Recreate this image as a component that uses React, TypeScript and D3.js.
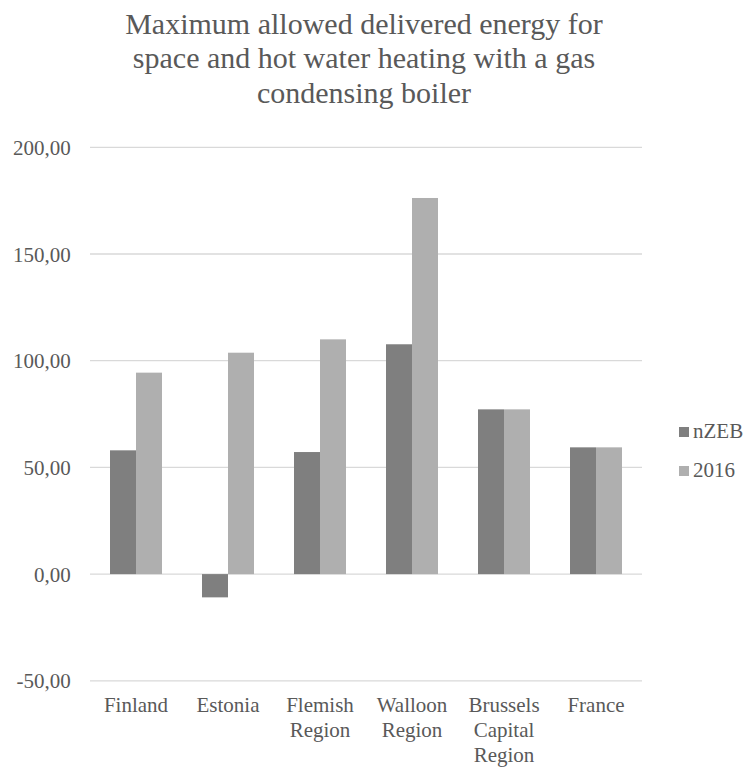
import React from "react";
import * as d3 from "d3";

const categories: string[][] = [
  ["Finland"],
  ["Estonia"],
  ["Flemish", "Region"],
  ["Walloon", "Region"],
  ["Brussels", "Capital", "Region"],
  ["France"],
];
const seriesNames = ["nZEB", "2016"];
const nzeb = [58.0, -10.9, 57.2, 107.7, 77.2, 59.4];
const y2016 = [94.4, 103.75, 110.0, 176.25, 77.2, 59.4];
const yTicks = [-50, 0, 50, 100, 150, 200];
const titleLines = [
  "Maximum allowed delivered energy for",
  "space and hot water heating with a gas",
  "condensing boiler",
];

const W = 748;
const H = 769;
const FONT = '"Liberation Serif", Tinos, "Times New Roman", Times, "DejaVu Serif", serif';
const TEXT = "#595959";
const COLORS = ["#7f7f7f", "#afafaf"];

export default function App() {
  const plot = { left: 90, right: 642, top: 147.3, bottom: 680.8 };
  const keys = categories.map((c) => c.join(" "));

  const x = d3
    .scaleBand<string>()
    .domain(keys)
    .range([plot.left, plot.right])
    .paddingInner(0.4348)
    .paddingOuter(0.2174);
  const xs = d3
    .scaleBand<string>()
    .domain(seriesNames)
    .range([0, x.bandwidth()]);
  const y = d3.scaleLinear().domain([-50, 200]).range([plot.bottom, plot.top]);

  const series = [nzeb, y2016];
  const fmt = (v: number) => d3.format(".2f")(v).replace(".", ",").replace("\u2212", "-");
  const txt = { fontFamily: FONT };

  return (
    <svg
      width={W}
      height={H}
      style={{ display: "block", position: "absolute", left: 0, top: 0, background: "#fff", fontFamily: FONT }}
    >
      <rect width={W} height={H} fill="#fff" />
      {titleLines.map((t, i) => (
        <text
          key={t}
          x={364}
          y={33.5 + i * 34.5}
          textAnchor="middle"
          fontSize={30}
          fill={TEXT}
          style={txt}
        >
          {t}
        </text>
      ))}

      {yTicks.map((t) => (
        <g key={t}>
          <line
            x1={plot.left}
            x2={plot.right}
            y1={y(t)}
            y2={y(t)}
            stroke="#d9d9d9"
            strokeWidth={1.3}
          />
          <text
            x={70.7}
            y={y(t) + 7.5}
            textAnchor="end"
            fontSize={21}
            fill={TEXT}
            style={txt}
          >
            {fmt(t)}
          </text>
        </g>
      ))}

      {keys.map((k, i) => (
        <g key={k}>
          {series.map((vals, s) => {
            const v = vals[i];
            return (
              <rect
                key={s}
                x={(x(k) as number) + (xs(seriesNames[s]) as number)}
                width={xs.bandwidth()}
                y={Math.min(y(v), y(0))}
                height={Math.abs(y(v) - y(0))}
                fill={COLORS[s]}
              />
            );
          })}
          {categories[i].map((line, j) => (
            <text
              key={j}
              x={(x(k) as number) + x.bandwidth() / 2}
              y={711.7 + j * 25}
              textAnchor="middle"
              fontSize={21}
              fill={TEXT}
              style={txt}
            >
              {line}
            </text>
          ))}
        </g>
      ))}

      {seriesNames.map((n, i) => (
        <g key={n}>
          <rect x={679} y={427 + i * 39} width={10} height={10} fill={COLORS[i]} />
          <text x={693} y={438 + i * 39} fontSize={21} fill={TEXT} style={txt}>
            {n}
          </text>
        </g>
      ))}
    </svg>
  );
}
